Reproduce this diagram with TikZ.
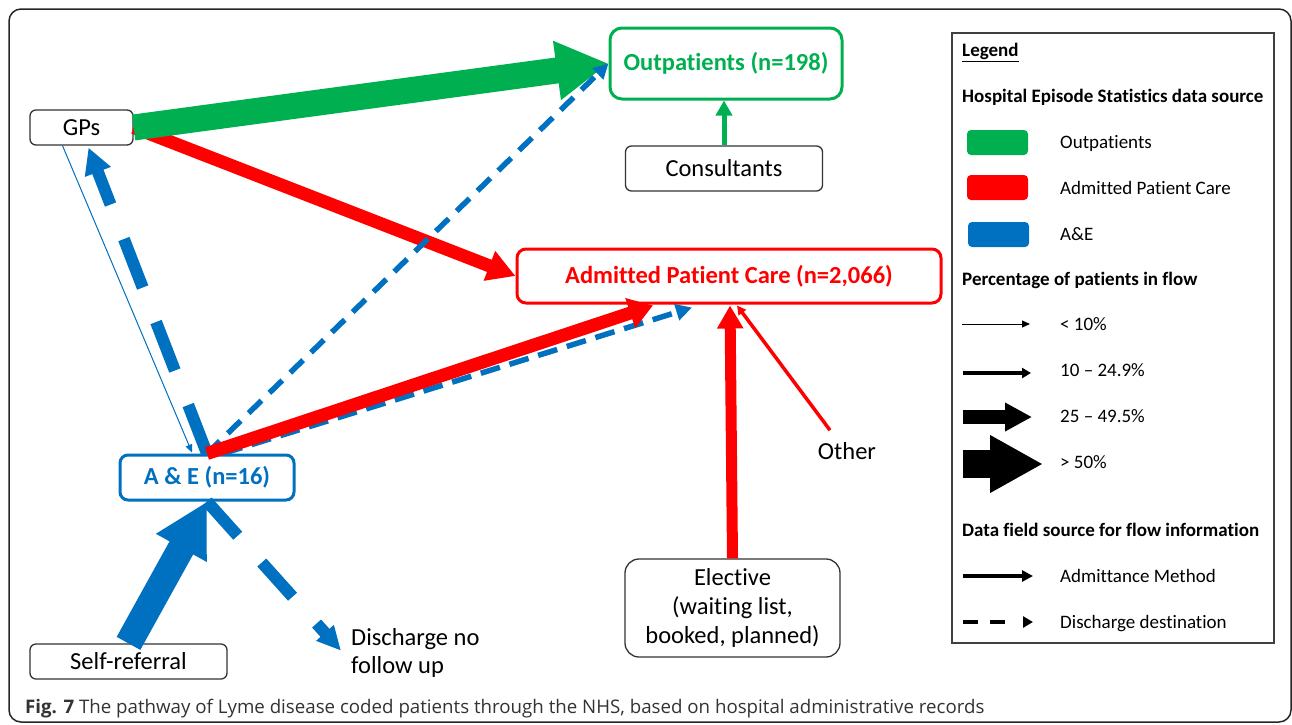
\documentclass[tikz,border=0pt]{standalone}
\usepackage{fontspec}
\setmainfont{Carlito}[Ligatures=NoCommon]
\newfontfamily\capfont{Open Sans}
\usetikzlibrary{arrows.meta,calc}
\definecolor{cgreen}{HTML}{00B050}
\definecolor{cred}{HTML}{FF0000}
\definecolor{cblue}{HTML}{0070C0}
\newcommand\fbig{\fontsize{24.5}{29}\selectfont}
\newcommand\fleg{\fontsize{19}{22}\selectfont}
\tikzset{
  plainbox/.style={draw=black!80, line width=1.3pt, rounded corners=6pt, fill=white, inner sep=0pt, font=\fbig},
  colbox/.style={draw=#1, line width=3pt, rounded corners=10pt, fill=white, inner sep=0pt, text=#1, font=\fbig\bfseries},
  legtext/.style={anchor=mid west, inner sep=0pt, font=\fleg},
  leghead/.style={anchor=mid west, inner sep=0pt, font=\fleg\bfseries},
  swatch/.style={fill=#1, draw=none, rounded corners=4pt},
}
\begin{document}
\begin{tikzpicture}[x=1pt,y=-1pt]
\useasboundingbox (0,0) rectangle (1292,724);
% outer frame
\draw[black!85, line width=1.5pt, rounded corners=12pt] (9,9) rectangle (1291,722);

% nodes
\node[plainbox, minimum width=103pt, minimum height=35pt] (gp) at (81.5,127.5) {GPs};
\node[plainbox, minimum width=197pt, minimum height=45pt] (cons) at (724,168.5) {Consultants};
\node[plainbox, minimum width=197pt, minimum height=35pt] (self) at (128.5,661.5) {Self-referral};
\node[plainbox, minimum width=215pt, minimum height=98pt, rounded corners=14pt, align=center] (elec) at (732.5,608) {Elective\\(waiting list,\\booked, planned)};
\node[colbox=cgreen, minimum width=232pt, minimum height=71pt, rounded corners=12pt] (out) at (726,63.5) {Outpatients (n=198)};
\node[colbox=cred, minimum width=424pt, minimum height=54pt, rounded corners=9pt] (adm) at (729,276) {Admitted Patient Care (n=2,066)};
\node[colbox=cblue, minimum width=174pt, minimum height=45pt, rounded corners=8pt] (ae) at (207,477.5) {A \& E (n=16)};
\node[inner sep=0pt, font=\fbig] (other) at (847,451) {Other};
\node[inner sep=0pt, font=\fontsize{24.5}{28}\selectfont, anchor=north west, align=left] (disc) at (351,628) {Discharge no\\follow up};

% connectors
\draw[cred, line width=13pt, -{Triangle[length=28pt,width=30pt]}] (gp.east) -- (adm.west);
\draw[cgreen, line width=26pt, -{Triangle[length=52pt,width=56pt]}] (gp.east) -- (out.west);
\draw[cblue, line width=1pt, -{Triangle[length=8pt,width=7pt]}] ($(gp.south)+(-19,0)$) -- ($(ae.north)+(-15,-1)$);
\draw[cblue, line width=12pt, dash pattern=on 52pt off 37pt, -{Triangle[length=26pt,width=26pt]}] (ae.north) -- ($(gp.south)+(7,2)$);
\draw[cblue, line width=5.5pt, dash pattern=on 18pt off 11pt, -{Triangle[length=15pt,width=15pt]}] (ae.north) -- (out.west);
\draw[cblue, line width=5.5pt, dash pattern=on 20pt off 10pt, -{Triangle[length=16pt,width=16pt]}] ($(ae.north)+(16,0)$) -- ($(adm.south)+(-37,3)$);
\draw[cred, line width=13pt, -{Triangle[length=24pt,width=30pt]}] (ae.north) -- ($(adm.south)+(-76,1)$);
\draw[cblue, line width=12pt, dash pattern=on 46pt off 36pt, -{Triangle[length=24pt,width=22pt]}] (ae.south) -- ($(disc.west)+(-10,-2)$);
\draw[cblue, line width=27pt, -{Triangle[length=53pt,width=54pt]}] (self.north) -- (ae.south);
\draw[cred, line width=11pt, -{Triangle[length=23pt,width=25pt]}] (elec.north) -- ($(adm.south)+(1,1)$);
\draw[cred, line width=3.5pt, -{Triangle[length=9pt,width=9pt]}] ($(other.north)+(-17,-12)$) -- ($(adm.south)+(8,1)$);
\draw[cgreen, line width=5pt, -{Triangle[length=15pt,width=16pt]}] (cons.north) -- ($(out.south)+(-2,0)$);

% legend
\node[draw=black!75, line width=1.3pt, minimum width=322pt, minimum height=610pt, inner sep=0pt] (legend) at (1113,338) {};
\node[leghead] (lg) at (962,54) {\underline{Legend}};
\node[leghead] (lh1) at (962,100) {Hospital Episode Statistics data source};
\fill[swatch=cgreen] (967,130) rectangle (1028,155);
\fill[swatch=cred] (967,175) rectangle (1028,200);
\fill[swatch=cblue] (968,222) rectangle (1029,247);
\node[legtext] (l1) at (1060,146) {Outpatients};
\node[legtext] (l2) at (1060,192) {Admitted Patient Care};
\node[legtext] (l3) at (1060,238) {A\&E};
\node[leghead] (lh2) at (962,283) {Percentage of patients in flow};
\node[legtext] (p1) at (1060,328) {< 10\%};
\node[legtext] (p2) at (1060,374) {10 – 24.9\%};
\node[legtext] (p3) at (1060,420) {25 – 49.5\%};
\node[legtext] (p4) at (1060,466) {> 50\%};
\node[leghead] (lh3) at (962,534) {Data field source for flow information};
\node[legtext] (d1) at (1060,580) {Admittance Method};
\node[legtext] (d2) at (1060,626) {Discharge destination};
\coordinate (a1s) at (962,324); \coordinate (a1e) at (1030,324);
\coordinate (a2s) at (963,373); \coordinate (a2e) at (1031,373);
\coordinate (a3s) at (963,417); \coordinate (a3e) at (1032,417);
\coordinate (a4s) at (963,464); \coordinate (a4e) at (1043,464);
\coordinate (a5s) at (963,576); \coordinate (a5e) at (1033,576);
\coordinate (a6s) at (963,622); \coordinate (a6e) at (1033,622);
\draw[line width=1pt, -{Triangle[length=8pt,width=7pt]}] (a1s) -- (a1e);
\draw[line width=3.2pt, -{Triangle[length=9pt,width=10pt]}] (a2s) -- (a2e);
\draw[line width=14pt, -{Triangle[length=27pt,width=27pt]}] (a3s) -- (a3e);
\draw[line width=28pt, -{Triangle[length=53pt,width=54pt]}] (a4s) -- (a4e);
\draw[line width=3.2pt, -{Triangle[length=11pt,width=11pt]}] (a5s) -- (a5e);
\draw[line width=3.2pt, dash pattern=on 15pt off 12pt on 15pt off 30pt, -{Triangle[length=10pt,width=11pt]}] (a6s) -- (a6e);

% caption
\node[anchor=base west, inner sep=0pt, font=\capfont\fontsize{18.7}{22}\selectfont, text=black!80] (cap) at (25,713) {\textbf{Fig. 7} The pathway of Lyme disease coded patients through the NHS, based on hospital administrative records};
\end{tikzpicture}
\end{document}
